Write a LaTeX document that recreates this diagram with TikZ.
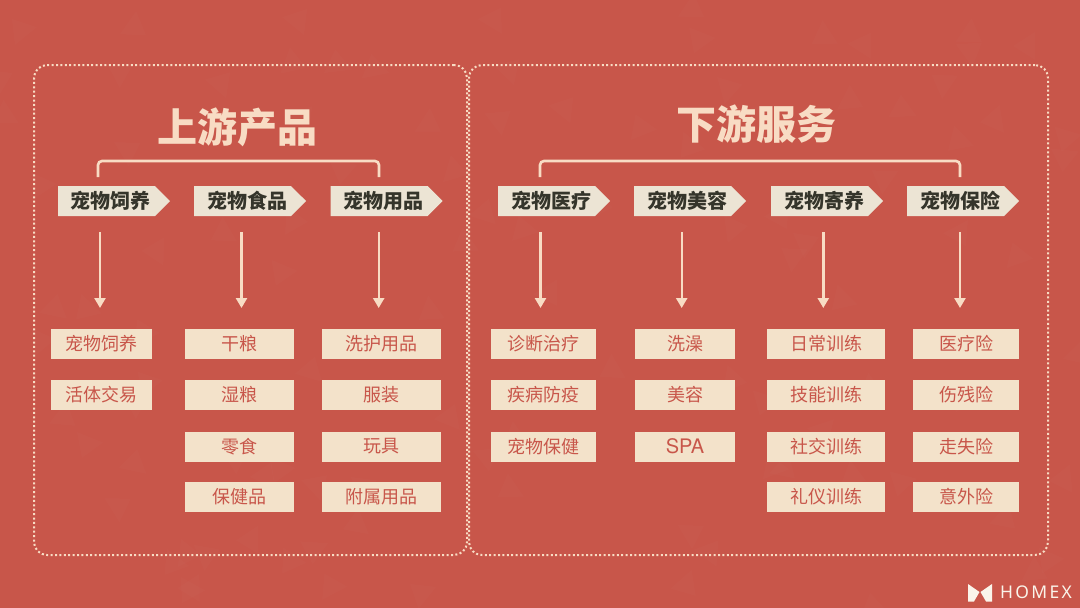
\documentclass[tikz,border=0pt]{standalone}
\usepackage{fontspec}
\setmainfont{Noto Sans CJK SC}
\newfontfamily\logofont[LetterSpace=13]{Noto Sans}
\newfontfamily\spafont{TeX Gyre Heros}
\usetikzlibrary{positioning,arrows.meta,shapes.symbols}
\definecolor{bgred}{HTML}{C8564A}
\definecolor{peach}{HTML}{F8DCC4}
\definecolor{cream}{HTML}{F3E2CA}
\definecolor{paper}{HTML}{ECE4D4}
\definecolor{ink}{HTML}{35352B}

\begin{document}
\begin{tikzpicture}[
  x=1pt,y=-1pt,
  frame/.style={draw=peach,line width=2pt,dash pattern=on 2pt off 2.4pt,rounded corners=13pt,inner sep=0pt},
  heading/.style={text=peach,font=\fontsize{40}{42}\selectfont\bfseries,inner sep=0pt},
  cat/.style={signal,signal to=east,signal pointer angle=90,fill=paper,text=ink,inner sep=0pt,minimum height=30pt,minimum width=112pt,font=\fontsize{20}{22}\selectfont\bfseries,execute at begin node=\hspace*{9pt}},
  item/.style={fill=cream,text=bgred,inner sep=0pt,minimum height=30pt,font=\fontsize{18}{20}\selectfont},
  brace/.style={draw=peach,line width=2.6pt,rounded corners=4pt},
  flow/.style={draw=peach,line width=2.4pt,-{Triangle[length=10pt,width=11pt]}}
]
\useasboundingbox (0,0) rectangle (1080,608);
\fill[bgred] (0,0) rectangle (1080,608);
\pgfmathsetseed{7}
\foreach \i in {1,...,110}{
  \pgfmathsetmacro{\px}{rnd*1080}
  \pgfmathsetmacro{\py}{rnd*608}
  \pgfmathsetmacro{\pa}{rnd*360}
  \fill[white,opacity=.014,shift={(\px,\py)},rotate=\pa] (-14,8) -- (14,8) -- (0,-14) -- cycle;
}

\node[frame,minimum width=433pt,minimum height=490pt] (upframe) at (250.5,310) {};
\node[frame,minimum width=579pt,minimum height=490pt] (downframe) at (758.5,310) {};

\node[heading] (uptitle) at (237,127) {上游产品};
\node[heading] (downtitle) at (756.5,124) {下游服务};

\coordinate (upleft) at (98,177);
\coordinate (upright) at (379,177);
\coordinate (downleft) at (540,177);
\coordinate (downright) at (960,177);
\draw[brace] (upleft) -- ++(0,-16) -| (upright);
\draw[brace] (downleft) -- ++(0,-16) -| (downright);

\node[cat] (feed) at (106.5,201) {宠物饲养};
\node[cat] (food) at (242.5,201) {宠物食品};
\node[cat] (goods) at (379,201) {宠物用品};
\node[cat] (medical) at (546.5,201) {宠物医疗};
\node[cat] (beauty) at (682.5,201) {宠物美容};
\node[cat] (board) at (819.5,201) {宠物寄养};
\node[cat] (insure) at (955.5,201) {宠物保险};

\node[item,minimum width=101pt] (feedA) at (101.5,343.5) {宠物饲养};
\node[item,minimum width=101pt] (feedB) at (101.5,394.5) {活体交易};

\node[item,minimum width=109pt] (foodA) at (239.5,343.5) {干粮};
\node[item,minimum width=109pt] (foodB) at (239.5,394.5) {湿粮};
\node[item,minimum width=109pt] (foodC) at (239.5,446.5) {零食};
\node[item,minimum width=109pt] (foodD) at (239.5,496.5) {保健品};

\node[item,minimum width=119pt] (goodsA) at (381.5,343.5) {洗护用品};
\node[item,minimum width=119pt] (goodsB) at (381.5,394.5) {服装};
\node[item,minimum width=119pt] (goodsC) at (381.5,446.5) {玩具};
\node[item,minimum width=119pt] (goodsD) at (381.5,496.5) {附属用品};

\node[item,minimum width=105pt] (medicalA) at (543.5,343.5) {诊断治疗};
\node[item,minimum width=105pt] (medicalB) at (543.5,394.5) {疾病防疫};
\node[item,minimum width=105pt] (medicalC) at (543.5,446.5) {宠物保健};

\node[item,minimum width=100pt] (beautyA) at (685,343.5) {洗澡};
\node[item,minimum width=100pt] (beautyB) at (685,394.5) {美容};
\node[item,minimum width=100pt,font=\fontsize{20}{20}\selectfont\spafont] (beautyC) at (685,446.5) {SPA};

\node[item,minimum width=118pt] (boardA) at (826,343.5) {日常训练};
\node[item,minimum width=118pt] (boardB) at (826,394.5) {技能训练};
\node[item,minimum width=118pt] (boardC) at (826,446.5) {社交训练};
\node[item,minimum width=118pt] (boardD) at (826,496.5) {礼仪训练};

\node[item,minimum width=106pt] (insureA) at (966,343.5) {医疗险};
\node[item,minimum width=106pt] (insureB) at (966,394.5) {伤残险};
\node[item,minimum width=106pt] (insureC) at (966,446.5) {走失险};
\node[item,minimum width=106pt] (insureD) at (966,496.5) {意外险};

\coordinate (feedend) at (100,308);
\coordinate (foodend) at (241.5,308);
\coordinate (goodsend) at (378.7,308);
\coordinate (medicalend) at (540.5,308);
\coordinate (beautyend) at (681.7,308);
\coordinate (boardend) at (823.3,308);
\coordinate (insureend) at (960,308);
\draw[flow] (feedend |- 0,232) -- (feedend);
\draw[flow] (foodend |- 0,232) -- (foodend);
\draw[flow] (goodsend |- 0,232) -- (goodsend);
\draw[flow] (medicalend |- 0,232) -- (medicalend);
\draw[flow] (beautyend |- 0,232) -- (beautyend);
\draw[flow] (boardend |- 0,232) -- (boardend);
\draw[flow] (insureend |- 0,232) -- (insureend);

\fill[cream!40!white] (968,584) -- (979.5,592) -- (974,601.5) -- (968,601.5) -- cycle;
\fill[cream!40!white] (992,584) -- (980.5,592) -- (986,601.5) -- (992,601.5) -- cycle;
\node[text=cream!40!white,inner sep=0pt,anchor=west,font=\fontsize{17.5}{18}\selectfont\logofont] (logo) at (1000,592.5) {HOMEX};
\end{tikzpicture}
\end{document}
